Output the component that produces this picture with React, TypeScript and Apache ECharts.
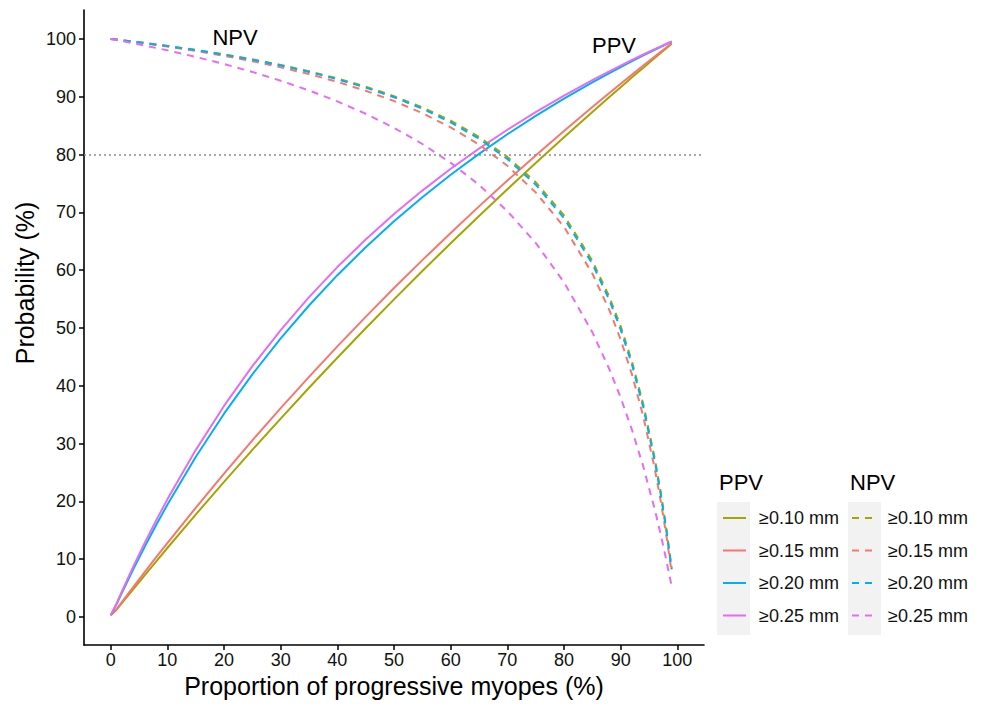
import React, { useEffect, useRef } from "react";
import * as echarts from "echarts";

const X = [0, 1, 2, 4, 6, 8, 10, 15, 20, 25, 30, 35, 40, 45, 50, 55, 60, 65, 70, 75, 80, 85, 88, 90, 92, 94, 96, 97, 98, 99];

const ppv010 = [0.3, 1.22, 2.43, 4.84, 7.22, 9.59, 11.94, 17.72, 23.37, 28.91, 34.33, 39.65, 44.85, 49.95, 54.95, 59.86, 64.66, 69.38, 74.0, 78.54, 82.99, 87.36, 89.95, 91.65, 93.35, 95.03, 96.7, 97.53, 98.36, 99.18];
const ppv015 = [0.3, 1.32, 2.62, 5.21, 7.77, 10.3, 12.79, 18.89, 24.81, 30.56, 36.13, 41.55, 46.81, 51.92, 56.9, 61.73, 66.44, 71.03, 75.49, 79.84, 84.08, 88.21, 90.64, 92.24, 93.82, 95.39, 96.94, 97.71, 98.48, 99.24];
const ppv020 = [0.3, 2.14, 4.24, 8.29, 12.16, 15.88, 19.43, 27.69, 35.17, 41.98, 48.19, 53.89, 59.13, 63.97, 68.45, 72.62, 76.5, 80.12, 83.51, 86.68, 89.67, 92.48, 94.09, 95.13, 96.15, 97.14, 98.12, 98.59, 99.07, 99.54];
const ppv025 = [0.3, 2.27, 4.48, 8.75, 12.8, 16.67, 20.35, 28.87, 36.51, 43.4, 49.64, 55.33, 60.53, 65.3, 69.7, 73.76, 77.53, 81.03, 84.29, 87.34, 90.2, 92.87, 94.4, 95.39, 96.36, 97.3, 98.22, 98.67, 99.12, 99.56];

const npv010 = [100, 99.89, 99.78, 99.54, 99.3, 99.05, 98.79, 98.1, 97.33, 96.47, 95.5, 94.41, 93.17, 91.75, 90.1, 88.16, 85.85, 83.05, 79.59, 75.21, 69.47, 61.62, 55.38, 50.28, 44.17, 36.74, 27.49, 21.97, 15.66, 8.42];
const npv015 = [100, 99.88, 99.75, 99.5, 99.24, 98.96, 98.68, 97.92, 97.08, 96.14, 95.09, 93.91, 92.57, 91.03, 89.25, 87.16, 84.69, 81.72, 78.06, 73.45, 67.48, 59.42, 53.09, 47.98, 41.92, 34.63, 25.7, 20.43, 14.49, 7.73];
const npv020 = [100, 99.89, 99.77, 99.53, 99.29, 99.03, 98.77, 98.06, 97.27, 96.39, 95.41, 94.29, 93.03, 91.58, 89.9, 87.93, 85.58, 82.74, 79.23, 74.79, 68.99, 61.1, 54.83, 49.72, 43.63, 36.23, 27.05, 21.59, 15.37, 8.25];
const npv025 = [100, 99.82, 99.63, 99.25, 98.85, 98.44, 98.02, 96.89, 95.65, 94.29, 92.77, 91.08, 89.19, 87.05, 84.62, 81.82, 78.57, 74.76, 70.21, 64.71, 57.89, 49.25, 42.86, 37.93, 32.35, 25.98, 18.65, 14.54, 10.09, 5.26];

const thresholds = ["≥0.10 mm", "≥0.15 mm", "≥0.20 mm", "≥0.25 mm"];
const colors = ["#A3A500", "#F8766D", "#00B0F6", "#E76BF3"];
const ppvSeries = [ppv010, ppv015, ppv020, ppv025];
const npvSeries = [npv010, npv015, npv020, npv025];
const ticks = [0, 10, 20, 30, 40, 50, 60, 70, 80, 90, 100];
const refLine = 80;

const FONT = "Liberation Sans, Arial, Helvetica, sans-serif";

export default function App() {
  const ref = useRef<HTMLDivElement>(null);
  useEffect(() => {
    if (!ref.current) return;
    const chart = echarts.init(ref.current, undefined, { renderer: "svg" });
    const pair = (ys: number[]) => X.map((x, i) => [x, ys[i]]);
    const series: any[] = [];
    ppvSeries.forEach((ys, k) => {
      series.push({
        name: "PPV " + thresholds[k],
        type: "line",
        data: pair(ys),
        symbol: "none",
        showSymbol: false,
        smooth: false,
        lineStyle: { color: colors[k], width: 2, type: "solid" },
        itemStyle: { color: colors[k] },
        z: 3,
        markLine:
          k === 0
            ? {
                silent: true,
                symbol: "none",
                label: { show: false },
                lineStyle: { color: "#8c8c8c", type: [2, 3], width: 1.5 },
                data: [{ yAxis: refLine }],
              }
            : undefined,
      });
    });
    npvSeries.forEach((ys, k) => {
      series.push({
        name: "NPV " + thresholds[k],
        type: "line",
        data: pair(ys),
        symbol: "none",
        showSymbol: false,
        smooth: false,
        lineStyle: { color: colors[k], width: 2, type: [7, 6] },
        itemStyle: { color: colors[k] },
        z: 3,
      });
    });

    const legendBase = {
      orient: "vertical",
      top: 509,
      padding: 0,
      itemWidth: 23,
      itemHeight: 18,
      itemGap: 14.5,
      selectedMode: false,
      itemStyle: { opacity: 0 },
      formatter: (n: string) => n.replace(/^(PPV|NPV) /, ""),
      textStyle: { fontSize: 18, fontFamily: FONT, color: "#111", lineHeight: 18, padding: [0, 0, 0, 8] },
    };

    chart.setOption({
      animation: false,
      backgroundColor: "#fff",
      grid: { left: 84, right: 285, top: 10, bottom: 59, containLabel: false },
      xAxis: {
        type: "value",
        min: -4.71,
        max: 104.7,
        name: "Proportion of progressive myopes (%)",
        nameLocation: "middle",
        nameGap: 28,
        nameTextStyle: { fontSize: 25, fontFamily: FONT, color: "#000" },
        axisLine: { show: true, onZero: false, lineStyle: { color: "#000", width: 1.6 } },
        axisTick: { show: true, length: 5, customValues: ticks, lineStyle: { color: "#000", width: 1.5 } },
        axisLabel: { customValues: ticks, fontSize: 18, fontFamily: FONT, color: "#111", margin: 6 },
        splitLine: { show: false },
      },
      yAxis: {
        type: "value",
        min: -4.84,
        max: 105,
        axisLine: { show: true, onZero: false, lineStyle: { color: "#000", width: 1.6 } },
        axisTick: { show: true, length: 5, customValues: ticks, lineStyle: { color: "#000", width: 1.5 } },
        axisLabel: { customValues: ticks, fontSize: 18, fontFamily: FONT, color: "#111", margin: 8 },
        splitLine: { show: false },
      },
      legend: [
        { ...legendBase, left: 722, data: thresholds.map((t) => "PPV " + t) },
        { ...legendBase, left: 851, data: thresholds.map((t) => "NPV " + t) },
      ],
      graphic: [
        { type: "rect", shape: { x: 717, y: 502, width: 33, height: 133 }, style: { fill: "#F2F2F2" }, z: -1 },
        { type: "rect", shape: { x: 848, y: 502, width: 33, height: 133 }, style: { fill: "#F2F2F2" }, z: -1 },
        { type: "text", x: 719, y: 482, style: { text: "PPV", fontSize: 22, fontFamily: FONT, fill: "#000", verticalAlign: "middle" } },
        { type: "text", x: 850, y: 482, style: { text: "NPV", fontSize: 22, fontFamily: FONT, fill: "#000", verticalAlign: "middle" } },
        { type: "text", x: 235, y: 37, style: { text: "NPV", fontSize: 22, fontFamily: FONT, fill: "#000", align: "center", verticalAlign: "middle" } },
        { type: "text", x: 614, y: 45, style: { text: "PPV", fontSize: 22, fontFamily: FONT, fill: "#000", align: "center", verticalAlign: "middle" } },
        {
          type: "text",
          x: 25,
          y: 283,
          rotation: Math.PI / 2,
          style: { text: "Probability (%)", fontSize: 25, fontFamily: FONT, fill: "#000", align: "center", verticalAlign: "middle" },
        },
      ],
      series,
    });
    return () => chart.dispose();
  }, []);
  return <div ref={ref} style={{ position: "fixed", left: 0, top: 0, width: 989, height: 704 }} />;
}
